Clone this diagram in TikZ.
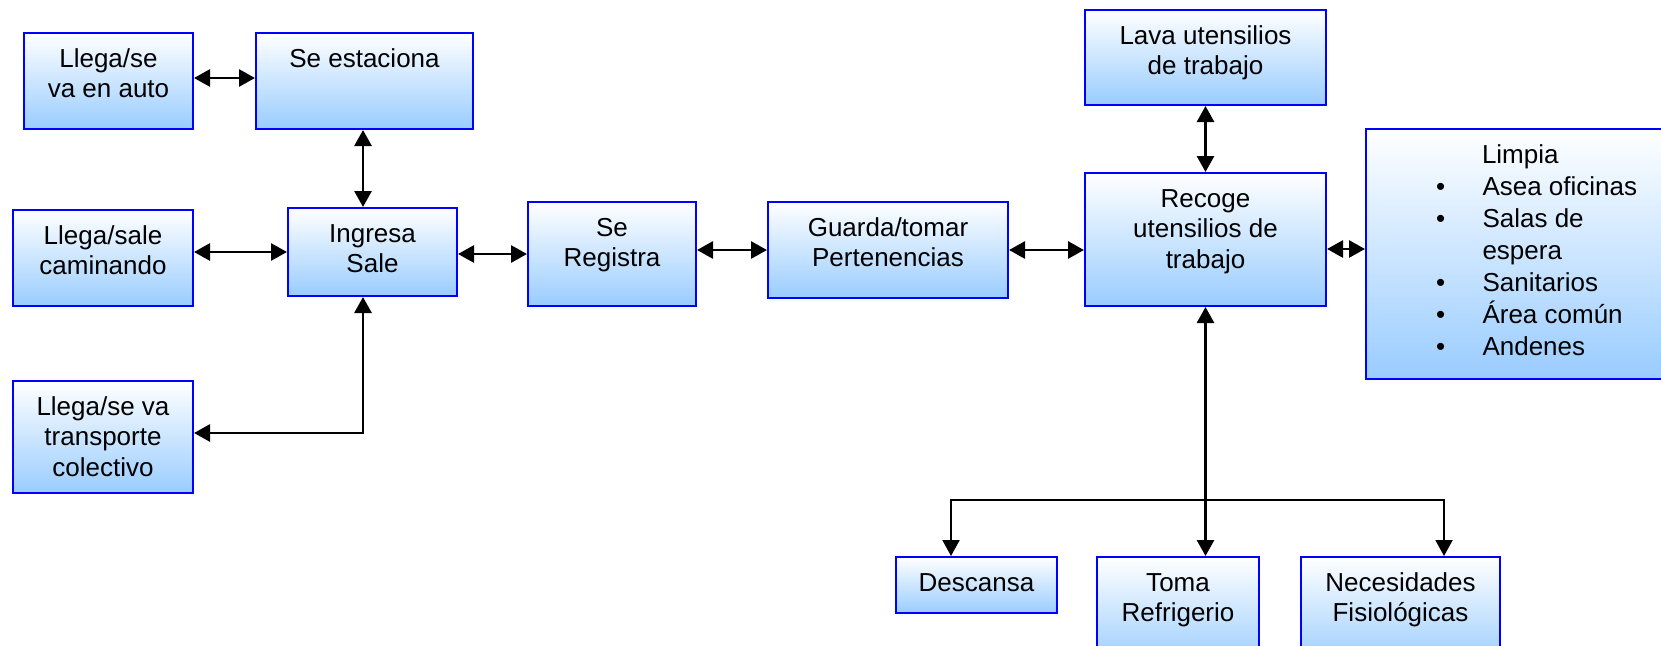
\documentclass[tikz,border=0pt]{standalone}
\usepackage{fontspec}
\setmainfont{Liberation Sans}
\usetikzlibrary{arrows.meta}

\definecolor{boxblue}{RGB}{153,204,255}
\definecolor{boxline}{RGB}{0,0,255}

% invisible strut fixing the height of the first text line
\newcommand\topst{\rule{0pt}{21pt}}
% process box: name, left, top, width, height, text (set at the top of the box)
\newcommand\procbox[6]{%
  \node[procbox, anchor=north west] (#1) at (#2,#3)
    {\parbox[b][#5pt][t]{#4pt}{\vspace*{13pt}\centering\topst #6\par}};}

\begin{document}
\begin{tikzpicture}[x=1pt,y=-1pt,
  procbox/.style={rectangle, inner sep=0pt, draw=boxline, line width=2pt,
    top color=white, bottom color=boxblue,
    font=\fontsize{26}{30.5}\selectfont},
  link/.style={line width=2.8pt, draw=black},
  branch/.style={line width=2pt, draw=black},
  >={Triangle[length=16pt,width=17pt]}]

\useasboundingbox (0,0) rectangle (1661,645);
\clip (0,0) rectangle (1661,645);

% left group: arrival and entrance
\procbox{auto}{23}{32}{169}{96}{Llega/se\\va en auto}
\procbox{estaciona}{255}{32}{217}{96}{Se estaciona}
\procbox{caminando}{12}{209}{180}{96}{Llega/sale\\caminando}
\procbox{ingresa}{287}{207}{169}{88}{Ingresa\\Sale}
\procbox{transporte}{12}{380}{180}{112}{Llega/se va\\transporte\\colectivo}

% main line
\procbox{registra}{527}{201}{168}{104}{Se\\Registra}
\procbox{guarda}{767}{201}{240}{96}{Guarda/tomar\\Pertenencias}
\procbox{lava}{1084}{9}{241}{95}{Lava utensilios\\de trabajo}
\procbox{recoge}{1084}{172}{241}{133}{Recoge\\utensilios de\\trabajo}

% cleaning tasks
\node[procbox, anchor=north west] (limpia) at (1365,128)
  {\parbox[b][250pt][t]{315pt}{\fontsize{26}{32}\selectfont\raggedright
    \vspace*{13pt}%
    \topst\hspace*{116pt}Limpia\\
    \hspace*{70pt}\makebox[46.5pt][l]{•}Asea oficinas\\
    \hspace*{70pt}\makebox[46.5pt][l]{•}Salas de\\
    \hspace*{116.5pt}espera\\
    \hspace*{70pt}\makebox[46.5pt][l]{•}Sanitarios\\
    \hspace*{70pt}\makebox[46.5pt][l]{•}Área común\\
    \hspace*{70pt}\makebox[46.5pt][l]{•}Andenes\par}};

% breaks
\procbox{descansa}{895}{556}{161}{56}{Descansa}
\procbox{toma}{1096}{556}{162}{110}{Toma\\Refrigerio}
\procbox{necesidades}{1300}{556}{199}{110}{Necesidades\\Fisiológicas}

% connectors
\draw[link,<->] ([yshift=3pt]auto.east) -- ([yshift=3pt]estaciona.west);
\draw[link,<->] ([xshift=-1.5pt]estaciona.south) -- ([xshift=-1.5pt]estaciona.south |- ingresa.north);
\draw[link,<->] (caminando.east |- ingresa.west) -- (ingresa.west);
\draw[link,<->] (registra.west -| ingresa.east) -- (registra.west);
\draw[link,<->] (guarda.west -| registra.east) -- (guarda.west);
\draw[link,<->] (guarda.east) -- (guarda.east -| recoge.west);
\draw[link,<->] ([yshift=-9.5pt]recoge.east) -- ([yshift=-9.5pt]recoge.east -| limpia.west);
\draw[link,<->] (lava.south) -- (recoge.north);
\draw[link,<->] ([xshift=-9.5pt]ingresa.south) |- ([yshift=4pt]transporte.east);

% branching to the breaks
\coordinate (hub) at (1204.5,500);
\draw[link,<->] (recoge.south) -- (recoge.south |- toma.north);
\draw[branch,->] (hub) -| ([xshift=-25.5pt]descansa.north);
\draw[branch,->] (hub) -| ([xshift=43.5pt]necesidades.north);

\end{tikzpicture}
\end{document}
